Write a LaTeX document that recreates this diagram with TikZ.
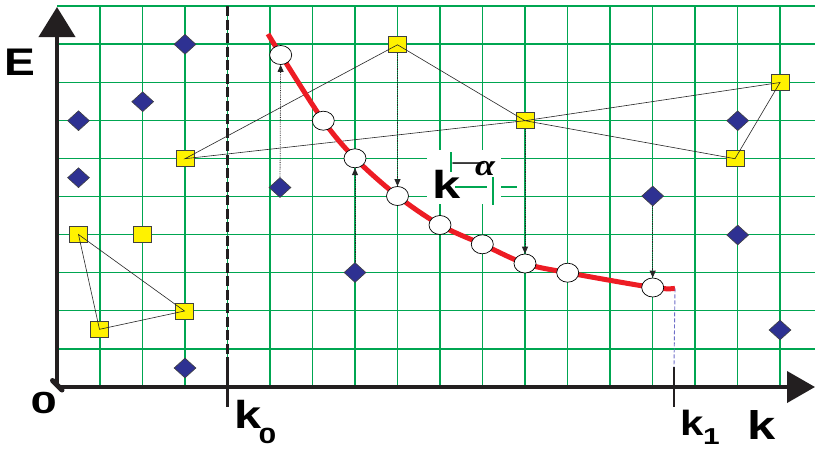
\documentclass[tikz,border=0pt]{standalone}
\usepackage{fontspec}
\setmainfont{Liberation Sans}
\newfontfamily\serifg{Liberation Serif}
\usetikzlibrary{arrows.meta,shapes.geometric}
\definecolor{gridg}{RGB}{0,166,81}
\definecolor{axiscol}{RGB}{35,31,32}
\definecolor{navyd}{RGB}{46,49,146}
\definecolor{yel}{RGB}{255,242,0}
\definecolor{redc}{RGB}{237,28,36}
\definecolor{bluedash}{RGB}{110,110,200}
\newcommand\mylbl[3]{\scalebox{#2}[1]{\fontsize{#1}{#1}\selectfont\bfseries #3}}
\tikzset{
  gridline/.style={gridg, line width=1.3pt},
  dia/.style={diamond, draw=black!75, fill=navyd, minimum width=22pt, minimum height=20pt, inner sep=0pt, line width=0.6pt},
  sq/.style={rectangle, draw=black!75, fill=yel, minimum width=18pt, minimum height=16pt, inner sep=0pt, line width=0.8pt},
  circ/.style={ellipse, draw=black, fill=white, minimum width=22pt, minimum height=19pt, inner sep=0pt, line width=0.7pt},
  link/.style={black!85, line width=0.6pt},
  darr/.style={black!85, densely dotted, line width=0.8pt, -{Triangle[width=6pt,length=7pt]}},
  lbl/.style={inner sep=0pt, anchor=base west, text=black},
  axisln/.style={axiscol, line width=4pt},
  tick/.style={axiscol, line width=2.6pt}
}
\begin{document}
\begin{tikzpicture}[x=1pt,y=-1pt]
\useasboundingbox (0,0) rectangle (815,448);
\fill[white] (0,0) rectangle (815,448);
% grid
\foreach \n in {1,...,17} \draw[gridline] ({57.5+42.5*\n},6) -- ({57.5+42.5*\n},387);
\foreach \n in {0,...,9} \draw[gridline] (57,{6+38.1*\n}) -- (815,{6+38.1*\n});
% white patch behind the k^-alpha label, with grid fragments
\fill[white] (427,150) rectangle (501,204);
\draw[gridline] (451,152) -- (451,172);
\draw[gridline] (455,187) -- (487,187);
\draw[gridline] (501,187) -- (517,187);
\draw[gridline] (493,177) -- (493,205);
% k0 line
\draw[axiscol, line width=2.5pt, dash pattern=on 10pt off 3.5pt] (227.5,6) -- (227.5,367);
% axes
\draw[axisln, -{Triangle[width=36pt,length=30pt]}] (57,384) -- (57,7);
\draw[axisln, -{Triangle[width=31pt,length=28pt]}] (60,387) -- (815,387);
\draw[axiscol, line width=5pt, line cap=round] (52.5,380.5) -- (62,390);
% ticks
\coordinate (k0top) at (227.5,367);
\coordinate (k0bot) at (227.5,407);
\coordinate (k1top) at (674,367);
\coordinate (k1bot) at (674,407);
\draw[tick] (k0top) -- (k0bot);
\draw[tick] (k1top) -- (k1bot);
% labels
\node[lbl] (lE) at (4,75) {\mylbl{38.5}{1.2}{E}};
\node[lbl] (l0) at (30.5,413.5) {\mylbl{30.5}{1.55}{0}};
\node[lbl] (lk0) at (234,428) {\mylbl{39}{1.25}{k}};
\node[lbl] (lk0s) at (258.5,443) {\mylbl{22}{1.45}{0}};
\node[lbl] (lk1) at (680.5,435) {\mylbl{35}{1.2}{k}};
\node[lbl] (lk1s) at (703,444) {\mylbl{23}{1.3}{1}};
\node[lbl] (lk) at (747,439) {\mylbl{40}{1.27}{k}};
\node[lbl] (lka) at (432,198) {\mylbl{39}{1.3}{k}};
\node[lbl] (lminus) at (449,173.5) {\scalebox{2.3}[1]{\fontsize{30}{30}\selectfont\serifg −}};
\node[lbl] (lalpha) at (475,175) {\scalebox{1.2}[1]{\fontsize{30}{30}\selectfont\serifg\bfseries\itshape α}};
% diamonds
\node[dia] (d1) at (185,44.3) {};
\node[dia] (d2) at (142.7,101.7) {};
\node[dia] (d3) at (78.5,120.7) {};
\node[dia] (d4) at (78.5,177.7) {};
\node[dia] (d5) at (185,368) {};
\node[dia] (d6) at (280,187.5) {};
\node[dia] (d7) at (355,272.5) {};
\node[dia] (d8) at (652.7,196) {};
\node[dia] (d9) at (737.7,120.7) {};
\node[dia] (d10) at (737.7,235) {};
\node[dia] (d11) at (780,330) {};
% squares
\node[sq] (s1) at (185,158.7) {};
\node[sq] (s2) at (78.5,234.5) {};
\node[sq] (s3) at (142.5,234.5) {};
\node[sq] (s4) at (99.5,329.3) {};
\node[sq] (s5) at (184.5,311) {};
\node[sq] (s6) at (397.5,44.8) {};
\node[sq] (s7) at (525,120.7) {};
\node[sq] (s8) at (780,82.5) {};
\node[sq] (s9) at (735,158.7) {};
% links between squares
\draw[link] (s2.center) -- (s4.center) -- (s5.center) -- cycle;
\draw[link] (s1.center) -- (s6.center) -- (s7.center) -- cycle;
\draw[link] (s7.center) -- (s8.center) -- (s9.center) -- cycle;
% red curve
\coordinate (cstart) at (268,34);
\coordinate (cend) at (675,288.3);
\draw[redc, line width=5pt] plot[smooth, tension=0.55] coordinates {(268,34) (281,55) (323.3,120.7) (355,158.3) (397.5,196) (440,225) (482.3,244.3) (525,263.5) (567.7,272.7) (652.7,287.5) (675,288.3)};
% circles
\node[circ] (c1) at (280.7,55) {};
\node[circ] (c2) at (323.3,120.7) {};
\node[circ] (c3) at (355,158.3) {};
\node[circ] (c4) at (397.5,196) {};
\node[circ] (c5) at (440,225) {};
\node[circ] (c6) at (482.3,244.3) {};
\node[circ] (c7) at (525,263.5) {};
\node[circ] (c8) at (567.7,272.7) {};
\node[circ] (c9) at (652.7,287.5) {};
% dotted arrows
\draw[darr] (d6) -- (c1);
\draw[darr] (d7) -- (c3);
\draw[darr] (s6) -- (c4);
\draw[darr] (s7) -- (c7);
\draw[darr] (d8) -- (c9);
% blue dashed drop
\draw[bluedash, line width=0.9pt, dash pattern=on 4pt off 2pt] (cend) -- (k1top);
\end{tikzpicture}
\end{document}
